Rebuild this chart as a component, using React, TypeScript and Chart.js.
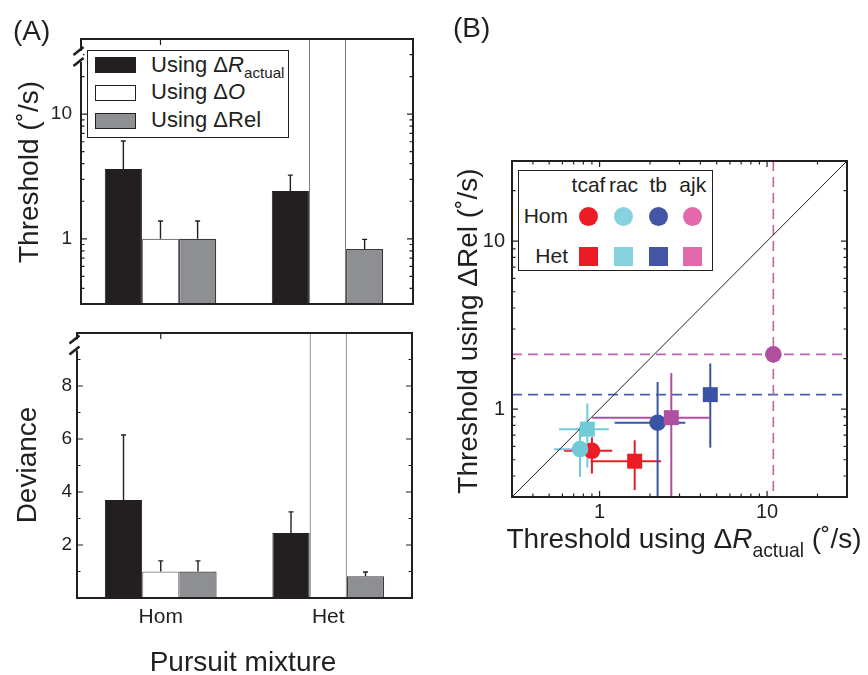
import React, { useEffect, useRef } from 'react';
import { Chart, registerables } from 'chart.js';

Chart.register(...registerables);

const FONT = '"Liberation Sans", Arial, Helvetica, sans-serif';
const INK = '#231f20';
Chart.defaults.font.family = FONT;
Chart.defaults.color = INK;

// ---------------- Panel A data ----------------
const groups = ['Hom', 'Het'];
const groupIndex = [0, 1];
const thresholdXRange = [-0.476, 1.512];
const thresholdActual = [3.63, 2.42];
const thresholdActualErr = [6.08, 3.24];
const thresholdO = [1.0, 60]; // Het value is off the scale (above the break)
const thresholdOErr = [1.39, null];
const thresholdRel = [1.0, 0.83];
const thresholdRelErr = [1.39, 0.99];
const thresholdRange = [0.3, 40];
const thresholdLabelTicks = [1, 10];
const thresholdMinorTicks = [0.3, 0.4, 0.5, 0.6, 0.7, 0.8, 0.9, 2, 3, 4, 5, 6, 7, 8, 9, 20, 30];
const thresholdBreak = 29;

const devianceActual = [3.7, 2.45];
const devianceActualErr = [6.15, 3.25];
const devianceO = [1.0, 12]; // Het value is off the scale (above the break)
const devianceOErr = [1.4, null];
const devianceRel = [1.0, 0.82];
const devianceRelErr = [1.4, 0.98];
const devianceRange = [0, 10];
const devianceLabelTicks = [2, 4, 6, 8];
const devianceMinorTicks = [1, 3, 5, 7, 9];
const devianceBreak = 9.55;

// ---------------- Panel B data ----------------
const subjects = ['tcaf', 'rac', 'tb', 'ajk'];
const homX = [0.9, 0.764, 2.22, 10.9];
const homY = [0.565, 0.578, 0.83, 2.12];
const homXLow = [0.613, 0.535, 1.23, null]; // null = unbounded (dashed line)
const homXHigh = [1.19, 0.884, 3.25, null];
const homYLow = [0.414, 0.395, 0.2, null];
const homYHigh = [0.68, 0.785, 1.45, null];
const hetX = [1.62, 0.845, 4.58, 2.68];
const hetY = [0.49, 0.76, 1.22, 0.89];
const hetXLow = [0.884, 0.573, null, 0.904];
const hetXHigh = [2.33, 1.136, null, 4.54];
const hetYLow = [0.33, 0.45, 0.59, 0.2];
const hetYHigh = [0.653, 1.08, 1.87, 1.64];
const scatterRange = [0.3, 30];
const scatterLabelTicks = [1, 10];
const scatterMinorTicks = [0.3, 0.4, 0.5, 0.6, 0.7, 0.8, 0.9, 2, 3, 4, 5, 6, 7, 8, 9, 20, 30];

const plotColors = ['#ec1c24', '#6fcbd8', '#3a53a4', '#b04f9f'];
const dashColors = ['#ec1c24', '#6fcbd8', '#4a5dab', '#c061ac'];
const legendColors = ['#ec1c24', '#86d3df', '#4455a5', '#e26aab'];

// ---------------- helpers ----------------
const fixAxis = (size: number, horizontal: boolean) => (s: any) => {
  if (horizontal) s.height = size;
  else s.width = size;
  s.paddingTop = 0;
  s.paddingBottom = 0;
  s.paddingLeft = 0;
  s.paddingRight = 0;
};

type TickSpec = { major: number[]; minor: number[] };

function framePlugin(xt: TickSpec, yt: TickSpec, breakAt: number | null) {
  return {
    id: 'frameTicks',
    beforeDatasetsDraw(chart: any) {
      const { ctx, chartArea: a, scales } = chart;
      const xs = scales.x;
      const ys = scales.y;
      ctx.save();
      ctx.strokeStyle = INK;
      ctx.lineWidth = 1.2;
      ctx.beginPath();
      const put = (vals: number[], len: number, horiz: boolean) => {
        vals.forEach((v) => {
          if (horiz) {
            const p = xs.getPixelForValue(v);
            ctx.moveTo(p, a.bottom);
            ctx.lineTo(p, a.bottom - len);
            ctx.moveTo(p, a.top);
            ctx.lineTo(p, a.top + len);
          } else {
            const p = ys.getPixelForValue(v);
            ctx.moveTo(a.left, p);
            ctx.lineTo(a.left + len, p);
            ctx.moveTo(a.right, p);
            ctx.lineTo(a.right - len, p);
          }
        });
      };
      put(xt.major, 6, true);
      put(xt.minor, 3.5, true);
      put(yt.major, 6, false);
      put(yt.minor, 3.5, false);
      ctx.stroke();
      ctx.restore();
    },
    afterDatasetsDraw(chart: any) {
      const { ctx, chartArea: a, scales } = chart;
      ctx.save();
      ctx.strokeStyle = INK;
      ctx.lineWidth = 2;
      ctx.strokeRect(a.left, a.top, a.right - a.left, a.bottom - a.top);
      if (breakAt != null) {
        const p = scales.y.getPixelForValue(breakAt);
        ctx.fillStyle = '#fff';
        ctx.fillRect(a.left - 2, p - 5.5, 4, 11);
        ctx.lineWidth = 2.6;
        ctx.beginPath();
        [-5.5, 5.5].forEach((d) => {
          const cx = a.left - 2.5;
          const cy = p + d;
          ctx.moveTo(cx - 5, cy + 4);
          ctx.lineTo(cx + 5, cy - 4);
        });
        ctx.stroke();
      }
      ctx.restore();
    },
  };
}

function barErrorPlugin(errs: (number | null)[][]) {
  return {
    id: 'barErrors',
    afterDatasetsDraw(chart: any) {
      const { ctx, chartArea: a } = chart;
      const ys = chart.scales.y;
      ctx.save();
      ctx.beginPath();
      ctx.rect(a.left, a.top, a.right - a.left, a.bottom - a.top);
      ctx.clip();
      ctx.strokeStyle = INK;
      ctx.lineWidth = 1.4;
      errs.forEach((arr, di) => {
        const meta = chart.getDatasetMeta(di);
        arr.forEach((e, i) => {
          if (e == null) return;
          const el: any = meta.data[i];
          const top = ys.getPixelForValue(e);
          ctx.beginPath();
          ctx.moveTo(el.x, el.y);
          ctx.lineTo(el.x, top);
          ctx.moveTo(el.x - 2.5, top);
          ctx.lineTo(el.x + 2.5, top);
          ctx.stroke();
        });
      });
      ctx.restore();
    },
  };
}

function barDatasets(a: any[], o: any[], r: any[], base: number) {
  return [
    { data: a, backgroundColor: INK, borderColor: INK, borderWidth: 1, base, clip: 0 },
    { data: o, backgroundColor: '#ffffff', borderColor: '#7d7d7d', borderWidth: 1.2, base, clip: 0 },
    { data: r, backgroundColor: '#8e8f92', borderColor: '#3a3a3a', borderWidth: 1.2, base, clip: 0 },
  ];
}

const toPoints = (vals: number[]) => vals.map((v, i) => ({ x: groupIndex[i], y: v }));

const baseOptions = {
  animation: false,
  responsive: false,
  devicePixelRatio: 1,
  events: [],
  plugins: { legend: { display: false }, tooltip: { enabled: false } },
};

function thresholdConfig(): any {
  return {
    type: 'bar',
    data: {
      datasets: barDatasets(
        toPoints(thresholdActual),
        toPoints(thresholdO),
        toPoints(thresholdRel),
        thresholdRange[0]
      ),
    },
    options: {
      ...baseOptions,
      layout: { padding: { left: 0, right: 17, top: 39, bottom: 16 } },
      datasets: { bar: { categoryPercentage: 0.667, barPercentage: 1 } },
      scales: {
        x: {
          type: 'linear',
          display: false,
          min: thresholdXRange[0],
          max: thresholdXRange[1],
          offset: false,
          afterBuildTicks: (s: any) => {
            s.ticks = groupIndex.map((v) => ({ value: v }));
          },
        },
        y: {
          type: 'logarithmic',
          min: thresholdRange[0],
          max: thresholdRange[1],
          grid: { display: false, drawTicks: false },
          border: { display: false },
          afterBuildTicks: (s: any) => {
            s.ticks = thresholdLabelTicks.map((v) => ({ value: v }));
          },
          afterFit: fixAxis(81, false),
          ticks: { font: { size: 19, family: FONT }, color: INK, padding: 9, callback: (v: any) => String(v) },
        },
      },
    },
    plugins: [
      barErrorPlugin([thresholdActualErr, thresholdOErr, thresholdRelErr]),
      framePlugin({ major: groupIndex, minor: [] }, { major: thresholdLabelTicks, minor: thresholdMinorTicks }, thresholdBreak),
    ],
  };
}

function devianceConfig(): any {
  return {
    type: 'bar',
    data: {
      labels: groups,
      datasets: barDatasets(devianceActual, devianceO, devianceRel, devianceRange[0]),
    },
    options: {
      ...baseOptions,
      layout: { padding: { left: 0, right: 18, top: 13, bottom: 0 } },
      datasets: { bar: { categoryPercentage: 0.667, barPercentage: 1 } },
      scales: {
        x: {
          grid: { display: false, drawTicks: false },
          border: { display: false },
          afterFit: fixAxis(77, true),
          ticks: { font: { size: 21, family: FONT }, color: INK, padding: 7 },
        },
        y: {
          type: 'linear',
          min: devianceRange[0],
          max: devianceRange[1],
          grid: { display: false, drawTicks: false },
          border: { display: false },
          afterBuildTicks: (s: any) => {
            s.ticks = devianceLabelTicks.map((v) => ({ value: v }));
          },
          afterFit: fixAxis(77, false),
          ticks: { font: { size: 19, family: FONT }, color: INK, padding: 5, callback: (v: any) => String(v) },
        },
      },
    },
    plugins: [
      barErrorPlugin([devianceActualErr, devianceOErr, devianceRelErr]),
      framePlugin({ major: groupIndex, minor: [] }, { major: devianceLabelTicks, minor: devianceMinorTicks }, devianceBreak),
    ],
  };
}

const scatterErrorPlugin = {
  id: 'scatterErrors',
  beforeDatasetsDraw(chart: any) {
    const { ctx, chartArea: a, scales } = chart;
    const xs = scales.x;
    const ys = scales.y;
    ctx.save();
    ctx.beginPath();
    ctx.rect(a.left, a.top, a.right - a.left, a.bottom - a.top);
    ctx.clip();
    const draw = (
      px: number,
      py: number,
      xl: number | null,
      xh: number | null,
      yl: number | null,
      yh: number | null,
      color: string,
      dash: string
    ) => {
      const cx = xs.getPixelForValue(px);
      const cy = ys.getPixelForValue(py);
      ctx.beginPath();
      if (xl == null || xh == null) {
        ctx.setLineDash([10, 6]);
        ctx.lineWidth = 1.6;
        ctx.strokeStyle = dash;
        ctx.moveTo(a.left, cy);
        ctx.lineTo(a.right, cy);
      } else {
        ctx.setLineDash([]);
        ctx.lineWidth = 2;
        ctx.strokeStyle = color;
        ctx.moveTo(xs.getPixelForValue(xl), cy);
        ctx.lineTo(xs.getPixelForValue(xh), cy);
      }
      ctx.stroke();
      ctx.beginPath();
      if (yl == null || yh == null) {
        ctx.setLineDash([10, 6]);
        ctx.lineWidth = 1.6;
        ctx.strokeStyle = dash;
        ctx.moveTo(cx, a.top);
        ctx.lineTo(cx, a.bottom);
      } else {
        ctx.setLineDash([]);
        ctx.lineWidth = 2;
        ctx.strokeStyle = color;
        ctx.moveTo(cx, ys.getPixelForValue(yl));
        ctx.lineTo(cx, ys.getPixelForValue(yh));
      }
      ctx.stroke();
    };
    subjects.forEach((_, i) => {
      draw(homX[i], homY[i], homXLow[i], homXHigh[i], homYLow[i], homYHigh[i], plotColors[i], dashColors[i]);
      draw(hetX[i], hetY[i], hetXLow[i], hetXHigh[i], hetYLow[i], hetYHigh[i], plotColors[i], dashColors[i]);
    });
    ctx.restore();
  },
};

function scatterConfig(): any {
  const datasets: any[] = [];
  subjects.forEach((s, i) => {
    datasets.push({
      label: s + ' Hom',
      data: [{ x: homX[i], y: homY[i] }],
      pointStyle: 'circle',
      pointRadius: 8.3,
      pointBorderWidth: 0,
      backgroundColor: plotColors[i],
      borderColor: plotColors[i],
      order: 4 - i,
    });
    datasets.push({
      label: s + ' Het',
      data: [{ x: hetX[i], y: hetY[i] }],
      pointStyle: 'rect',
      pointRadius: 10.6,
      pointBorderWidth: 0,
      backgroundColor: plotColors[i],
      borderColor: plotColors[i],
      order: 4 - i,
    });
  });
  datasets.push({
    label: 'identity',
    data: scatterRange.map((v) => ({ x: v, y: v })),
    showLine: true,
    pointRadius: 0,
    borderColor: INK,
    borderWidth: 1,
    order: 10,
  });
  const axis = (horizontal: boolean, size: number, padding: number) => ({
    type: 'logarithmic',
    min: scatterRange[0],
    max: scatterRange[1],
    grid: { display: false, drawTicks: false },
    border: { display: false },
    afterBuildTicks: (s: any) => {
      s.ticks = scatterLabelTicks.map((v) => ({ value: v }));
    },
    afterFit: fixAxis(size, horizontal),
    ticks: { font: { size: 20, family: FONT }, color: INK, padding, callback: (v: any) => String(v) },
  });
  return {
    type: 'scatter',
    data: { datasets },
    options: {
      ...baseOptions,
      layout: { padding: { left: 0, right: 21, top: 161, bottom: 0 } },
      scales: {
        x: { ...axis(true, 63, 3), position: 'bottom' },
        y: { ...axis(false, 72, 7), position: 'left' },
      },
    },
    plugins: [
      scatterErrorPlugin,
      framePlugin(
        { major: scatterLabelTicks, minor: scatterMinorTicks },
        { major: scatterLabelTicks, minor: scatterMinorTicks },
        null
      ),
    ],
  };
}

function ChartCanvas(props: { left: number; top: number; width: number; height: number; makeConfig: () => any }) {
  const ref = useRef<HTMLCanvasElement>(null);
  useEffect(() => {
    const chart = new Chart(ref.current as HTMLCanvasElement, props.makeConfig());
    return () => chart.destroy();
  }, []);
  return (
    <canvas
      ref={ref}
      width={props.width}
      height={props.height}
      style={{ position: 'absolute', left: props.left, top: props.top, width: props.width, height: props.height }}
    />
  );
}

function Txt(props: {
  x: number;
  y: number;
  size: number;
  rotate?: boolean;
  anchor?: 'start' | 'center' | 'end';
  children: any;
}) {
  const anchor = props.anchor || 'center';
  const tx = anchor === 'center' ? '-50%' : anchor === 'end' ? '-100%' : '0';
  return (
    <div
      style={{
        position: 'absolute',
        left: props.x,
        top: props.y,
        fontSize: props.size,
        lineHeight: 1,
        whiteSpace: 'nowrap',
        transform: `translate(${tx}, -50%)${props.rotate ? ' rotate(-90deg)' : ''}`,
      }}
    >
      {props.children}
    </div>
  );
}

const Sub = (p: { children: any }) => (
  <span style={{ fontSize: '0.69em', position: 'relative', top: '0.45em' }}>{p.children}</span>
);

const headerX = [588.5, 623.5, 658.3, 692.8];

export default function App() {
  return (
    <div
      style={{
        position: 'absolute',
        left: 0,
        top: 0,
        width: 868,
        height: 675,
        background: '#fff',
        fontFamily: FONT,
        color: INK,
        overflow: 'hidden',
      }}
    >
      <ChartCanvas left={0} top={0} width={430} height={320} makeConfig={thresholdConfig} />
      <ChartCanvas left={0} top={320} width={430} height={355} makeConfig={devianceConfig} />
      <ChartCanvas left={440} top={0} width={428} height={560} makeConfig={scatterConfig} />

      <Txt x={13} y={31} size={28} anchor="start">(A)</Txt>
      <Txt x={453} y={28} size={28} anchor="start">(B)</Txt>

      <Txt x={29} y={172} size={28} rotate>Threshold (˚/s)</Txt>
      <Txt x={27} y={465} size={28} rotate>Deviance</Txt>
      <Txt x={243} y={662} size={28}>Pursuit mixture</Txt>

      <Txt x={468} y={331} size={28} rotate>Threshold using ΔRel (˚/s)</Txt>
      <Txt x={684} y={539} size={28}>
        Threshold using Δ<i>R</i>
        <Sub>actual</Sub> (˚/s)
      </Txt>

      {/* Legend A */}
      <div
        style={{
          position: 'absolute',
          left: 87,
          top: 50,
          width: 202,
          height: 88,
          boxSizing: 'border-box',
          border: `1.6px solid ${INK}`,
          background: '#fff',
        }}
      />
      <div style={{ position: 'absolute', left: 95, top: 57, width: 41, height: 16, background: INK }} />
      <div
        style={{
          position: 'absolute',
          left: 95,
          top: 84.5,
          width: 41,
          height: 16,
          boxSizing: 'border-box',
          background: '#fff',
          border: `1.5px solid ${INK}`,
        }}
      />
      <div
        style={{
          position: 'absolute',
          left: 95,
          top: 112.5,
          width: 41,
          height: 16,
          boxSizing: 'border-box',
          background: '#8e8f92',
          border: `1.5px solid ${INK}`,
        }}
      />
      <Txt x={151} y={64.5} size={22} anchor="start">
        Using Δ<i>R</i>
        <Sub>actual</Sub>
      </Txt>
      <Txt x={151} y={91.5} size={22} anchor="start">
        Using Δ<i>O</i>
      </Txt>
      <Txt x={151} y={119.5} size={22} anchor="start">Using ΔRel</Txt>

      {/* Legend B */}
      <div
        style={{
          position: 'absolute',
          left: 518,
          top: 170,
          width: 195,
          height: 101,
          boxSizing: 'border-box',
          border: `1.6px solid ${INK}`,
          background: '#fff',
        }}
      />
      {subjects.map((s, i) => (
        <Txt key={'h' + s} x={headerX[i]} y={183.5} size={21}>
          {s}
        </Txt>
      ))}
      <Txt x={568} y={215} size={21} anchor="end">Hom</Txt>
      <Txt x={568} y={254.5} size={21} anchor="end">Het</Txt>
      {subjects.map((s, i) => (
        <div
          key={'c' + s}
          style={{
            position: 'absolute',
            left: headerX[i] - 9.5,
            top: 216.3 - 9.5,
            width: 19,
            height: 19,
            borderRadius: '50%',
            background: legendColors[i],
          }}
        />
      ))}
      {subjects.map((s, i) => (
        <div
          key={'q' + s}
          style={{
            position: 'absolute',
            left: headerX[i] - 9.5,
            top: 256 - 9.5,
            width: 19,
            height: 19,
            background: legendColors[i],
          }}
        />
      ))}
    </div>
  );
}
